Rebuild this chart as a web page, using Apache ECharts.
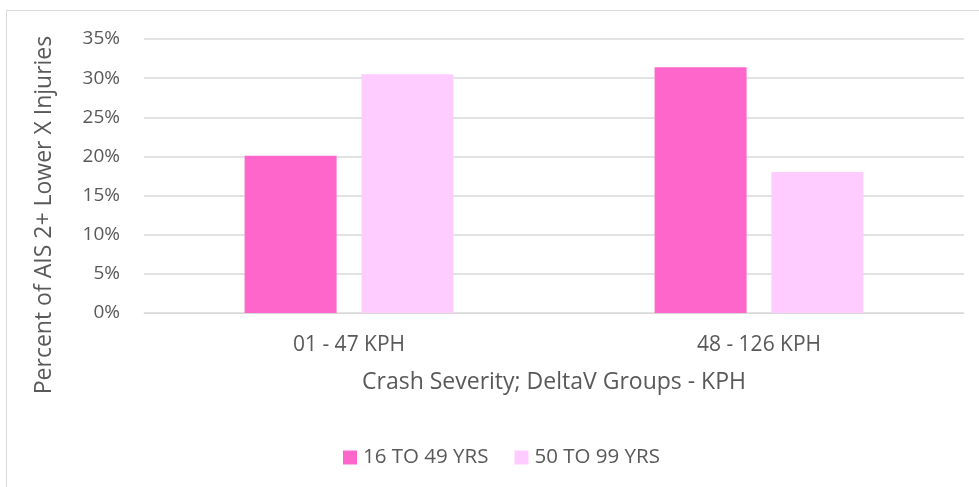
<!DOCTYPE html>
<html>
<head>
<meta charset="utf-8">
<script src="https://cdn.jsdelivr.net/npm/echarts@6/dist/echarts.min.js"></script>
<style>
  html, body { margin: 0; padding: 0; background: #fff; }
  #main { width: 979px; height: 487px; }
</style>
</head>
<body>
<div id="main"></div>
<script>
var categories = ["01 - 47 KPH", "48 - 126 KPH"];
var seriesNames = ["16 TO 49 YRS", "50 TO 99 YRS"];
var youngValues = [20.1, 31.4];
var oldValues = [30.5, 18.0];

var chart = echarts.init(document.getElementById("main"));
var font = "'Open Sans', 'Liberation Sans', sans-serif";
var textColor = "#595959";

chart.setOption({
  animation: false,
  textStyle: { fontFamily: font },
  graphic: [{
    type: "rect",
    shape: { x: 6.5, y: 10.5, width: 990, height: 500 },
    style: { fill: "none", stroke: "#d9d9d9", lineWidth: 1 },
    silent: true
  }],
  grid: { left: 144, right: 15, top: 39, bottom: 174, outerBoundsMode: "none", containLabel: false },
  legend: {
    top: 442,
    left: 338,
    itemWidth: 14,
    itemHeight: 14,
    itemGap: 26,
    icon: "rect",
    textStyle: { color: textColor, fontSize: 20.5, fontFamily: font, padding: [0, 0, 0, 1] },
    data: seriesNames
  },
  xAxis: {
    type: "category",
    data: categories,
    name: "Crash Severity; DeltaV Groups - KPH",
    nameLocation: "middle",
    nameGap: 58,
    nameTextStyle: { color: textColor, fontSize: 23, fontFamily: font },
    axisLine: { lineStyle: { color: "#d9d9d9" } },
    axisTick: { show: false },
    axisLabel: { color: textColor, fontSize: 21, margin: 22, fontFamily: font }
  },
  yAxis: {
    type: "value",
    min: 0,
    max: 35,
    interval: 5,
    name: "Percent of AIS 2+ Lower X Injuries",
    nameLocation: "middle",
    nameGap: 88,
    nameTextStyle: { color: textColor, fontSize: 23, fontFamily: font, padding: [0, 78, 0, 0] },
    axisLine: { show: false },
    axisTick: { show: false },
    splitLine: { lineStyle: { color: "#d9d9d9", width: 1.5 } },
    axisLabel: { color: textColor, fontSize: 19, margin: 24, fontFamily: font, formatter: "{value}%" }
  },
  series: [{
    name: seriesNames[0],
    type: "bar",
    data: youngValues,
    barWidth: 92,
    barGap: "27%",
    itemStyle: { color: "#FF66CC" }
  }, {
    name: seriesNames[1],
    type: "bar",
    data: oldValues,
    barWidth: 92,
    itemStyle: { color: "#FFCCFF" }
  }]
});
</script>
</body>
</html>
